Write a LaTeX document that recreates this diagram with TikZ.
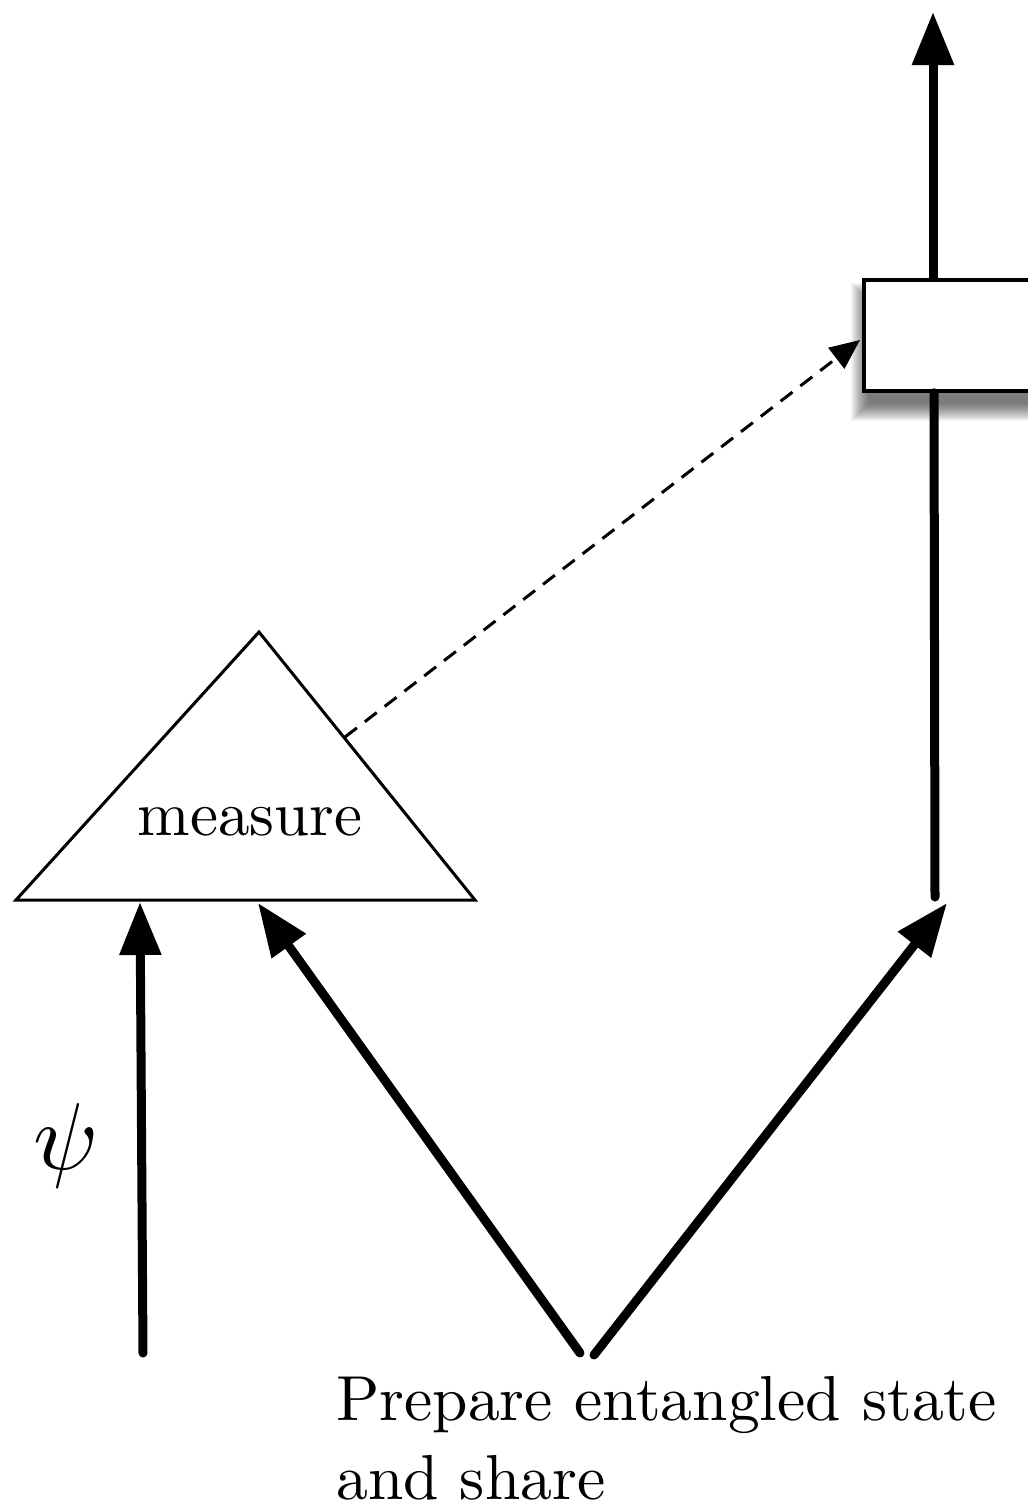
\documentclass[tikz,border=0pt]{standalone}
\usetikzlibrary{arrows.meta}
\begin{document}
\begin{tikzpicture}[x=1pt,y=-1pt,
  thickarrow/.style={line width=9pt, line cap=round, -{Triangle[length=53pt,width=40pt]}},
  dasharrow/.style={line width=3pt, dash pattern=on 15pt off 10pt, -{Triangle[length=30pt,width=26pt]}},
  bigtext/.style={font=\fontsize{10}{12.4}\selectfont, inner sep=0pt},
  gate/.style={draw, line width=3.5pt, fill=white, rectangle, inner sep=0pt}
]
\useasboundingbox (0,0) rectangle (1028,1508);
\clip (0,0) rectangle (1028,1508);
% soft shadow of the box
\foreach \i in {0,...,17}{
  \fill[black, opacity=0.038] (868-\i,300-\i) rectangle (1110+\i,404+\i);
}
\node[gate, minimum width=246pt, minimum height=111pt] (box) at (987,335.5) {};
% triangle
\coordinate (tA) at (259,632);
\coordinate (tL) at (16,900);
\coordinate (tR) at (475,900);
\draw[line width=3pt, line join=miter] (tL) -- (tA) -- (tR) -- cycle;
\node[bigtext, scale=6.3, anchor=base] (meas) at (250,835) {measure};
% points
\coordinate (psiStart) at (143,1353);
\coordinate (psiEnd) at (140,902);
\coordinate (mEnd) at (258,903);
\coordinate (srcL) at (580,1353);
\coordinate (srcR) at (594,1355);
\coordinate (bEnd) at (947,903);
\coordinate (vBot) at (935,897);
\coordinate (topEnd) at (933,12);
\coordinate (dStart) at (345,737);
\coordinate (dEnd) at (860,340);
% connectors
\draw[thickarrow] (psiStart) -- (psiEnd);
\draw[thickarrow] (srcL) -- (mEnd);
\draw[thickarrow] (srcR) -- (bEnd);
\draw[line width=9pt, line cap=round] (vBot) -- (box.south -| 934,0);
\draw[line width=9pt, -{Triangle[length=53pt,width=40pt]}] (box.north -| 933,0) -- (topEnd);
\draw[dasharrow] (dStart) -- (dEnd);
% texts
\node[inner sep=0pt, anchor=base, scale=9.5] (psi) at (66,1169) {$\psi$};
\node[bigtext, scale=6.36, text depth=0pt, anchor=base west, align=left] (prep) at (335,1499) {Prepare entangled state\\and share};
\end{tikzpicture}
\end{document}
